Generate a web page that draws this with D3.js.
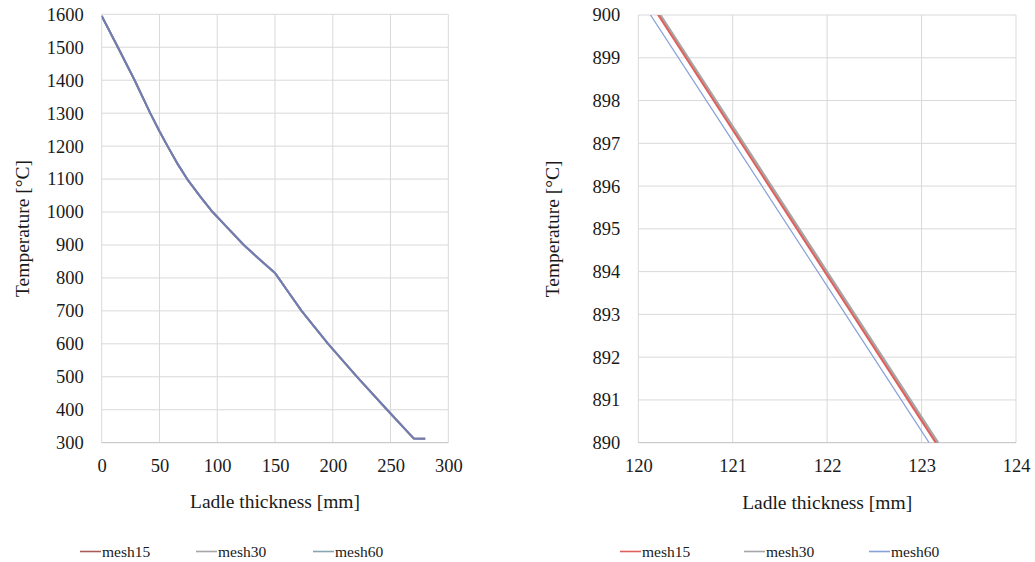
<!DOCTYPE html>
<html>
<head>
<meta charset="utf-8">
<script src="https://cdn.jsdelivr.net/npm/d3@7"></script>
<style>
  body { margin: 0; background: #fff; }
  svg { display: block; }
  text { font-family: "Liberation Serif", "Times New Roman", serif; fill: #1a1a1a; }
</style>
</head>
<body>
<svg id="chart" width="1035" height="562"></svg>
<script>
// ---- data ----
const seriesNames = ["mesh15", "mesh30", "mesh60"];

// full wall profile: temperature vs. ladle thickness
const thickness = [0, 14, 28.5, 42, 50, 57, 65, 74, 85, 96, 110, 123, 137, 150, 153, 160, 173, 185, 196, 221, 247, 270, 280];
const tempMesh15 = [1595, 1500, 1400, 1300, 1245, 1200, 1150, 1100, 1048, 1000, 948, 900, 855, 815, 800, 765, 700, 648, 600, 500, 400, 313, 312];
const tempMesh30 = [1595, 1500, 1400, 1300, 1245, 1200, 1150, 1100, 1048, 1000, 948, 900, 855, 815, 800, 765, 700, 648, 600, 500, 400, 313, 312];
const tempMesh60 = [1595, 1500, 1400, 1300, 1245, 1200, 1150, 1100, 1048, 1000, 948, 900, 855, 815, 800, 765, 700, 648, 600, 500, 400, 313, 312];

const xTicksFull = [0, 50, 100, 150, 200, 250, 300];
const yTicksFull = [300, 400, 500, 600, 700, 800, 900, 1000, 1100, 1200, 1300, 1400, 1500, 1600];

// detail window around 120–124 mm
const thicknessDetail = [120, 121, 122, 123, 124];
const detailMesh15 = [900.72, 897.31, 893.91, 890.51, 887.11];
const detailMesh30 = [900.78, 897.38, 893.98, 890.58, 887.18];
const detailMesh60 = [900.44, 897.05, 893.66, 890.27, 886.88];

const xTicksDetail = [120, 121, 122, 123, 124];
const yTicksDetail = [890, 891, 892, 893, 894, 895, 896, 897, 898, 899, 900];

const colorsFull = ["#a85c58", "#a6a6a6", "#6e7db4"];
const legendColorsFull = ["#a85c58", "#a6a6a6", "#88a6b0"];
const colorsDetail = ["#e2605c", "#a6a6a6", "#86a2d6"];

// ---- drawing ----
const svg = d3.select("#chart");
const serif = '"Liberation Serif", "Times New Roman", serif';

function panel(opts) {
  const g = svg.append("g");
  const x = d3.scaleLinear().domain(opts.xDomain).range(opts.xRange);
  const y = d3.scaleLinear().domain(opts.yDomain).range(opts.yRange);

  // grid
  g.append("g").selectAll("line").data(opts.xTicks).join("line")
    .attr("x1", d => x(d)).attr("x2", d => x(d))
    .attr("y1", opts.yRange[1]).attr("y2", opts.yRange[0])
    .attr("stroke", "#d9d9d9").attr("stroke-width", 1);
  g.append("g").selectAll("line").data(opts.yTicks).join("line")
    .attr("x1", opts.xRange[0]).attr("x2", opts.xRange[1])
    .attr("y1", d => y(d)).attr("y2", d => y(d))
    .attr("stroke", d => d === opts.yDomain[0] ? "#bfbfbf" : "#d9d9d9")
    .attr("stroke-width", 1);

  // axes (labels only)
  const xa = g.append("g").attr("transform", `translate(0,${opts.yRange[0]})`)
    .call(d3.axisBottom(x).tickValues(opts.xTicks).tickSize(0).tickPadding(16).tickFormat(d3.format("d")));
  const ya = g.append("g").attr("transform", `translate(${opts.xRange[0]},0)`)
    .call(d3.axisLeft(y).tickValues(opts.yTicks).tickSize(0).tickPadding(18).tickFormat(d3.format("d")));
  [xa, ya].forEach(a => {
    a.attr("font-family", serif).attr("font-size", 18.5);
    a.select(".domain").remove();
    a.selectAll("text").attr("fill", "#1a1a1a").style("font-family", serif).style("font-size", "18.5px");
  });

  // axis titles
  g.append("text").attr("x", (opts.xRange[0] + opts.xRange[1]) / 2).attr("y", opts.xTitleY)
    .attr("text-anchor", "middle").attr("dy", "0.35em").style("font-size", "19.5px")
    .text("Ladle thickness [mm]");
  g.append("text")
    .attr("transform", `translate(${opts.yTitleX},${(opts.yRange[0] + opts.yRange[1]) / 2}) rotate(-90)`)
    .attr("text-anchor", "middle").attr("dy", "0.35em").style("font-size", "19.5px")
    .text("Temperature [°C]");

  // clip to plot area
  const clipId = "clip-" + opts.id;
  svg.append("clipPath").attr("id", clipId).append("rect")
    .attr("x", opts.xRange[0]).attr("y", opts.yRange[1])
    .attr("width", opts.xRange[1] - opts.xRange[0])
    .attr("height", opts.yRange[0] - opts.yRange[1]);

  const line = d3.line().x(d => x(d[0])).y(d => y(d[1]));
  const lines = g.append("g").attr("clip-path", `url(#${clipId})`);
  opts.drawOrder.forEach(i => {
    const pts = opts.xs.map((v, k) => [v, opts.series[i][k]]);
    lines.append("path").datum(pts)
      .attr("d", line).attr("fill", "none")
      .attr("stroke", opts.colors[i]).attr("stroke-width", opts.widths[i])
      .attr("stroke-linejoin", "round");
  });

  // legend
  const lg = g.append("g");
  seriesNames.forEach((name, i) => {
    const lx = opts.legendX[i];
    lg.append("line").attr("x1", lx).attr("x2", lx + 21)
      .attr("y1", opts.legendY).attr("y2", opts.legendY)
      .attr("stroke", opts.legendColors[i]).attr("stroke-width", 1.6);
    lg.append("text").attr("x", lx + 22).attr("y", opts.legendY)
      .attr("dy", "0.35em").style("font-size", "15.5px").text(name);
  });
}

panel({
  id: "full",
  xDomain: [0, 300], xRange: [101.7, 448.3],
  yDomain: [300, 1600], yRange: [442.7, 14.3],
  xTicks: xTicksFull, yTicks: yTicksFull,
  xs: thickness, series: [tempMesh15, tempMesh30, tempMesh60],
  colors: colorsFull, legendColors: legendColorsFull,
  widths: [2, 2, 2], drawOrder: [0, 1, 2],
  xTitleY: 501, yTitleX: 22,
  legendX: [80, 196, 313], legendY: 551.5
});

panel({
  id: "detail",
  xDomain: [120, 124], xRange: [638.3, 1016],
  yDomain: [890, 900], yRange: [442.7, 15],
  xTicks: xTicksDetail, yTicks: yTicksDetail,
  xs: thicknessDetail, series: [detailMesh15, detailMesh30, detailMesh60],
  colors: colorsDetail, legendColors: colorsDetail,
  widths: [2, 3, 1.2], drawOrder: [1, 0, 2],
  xTitleY: 502, yTitleX: 551.7,
  legendX: [620, 744, 869], legendY: 551.5
});
</script>
</body>
</html>
